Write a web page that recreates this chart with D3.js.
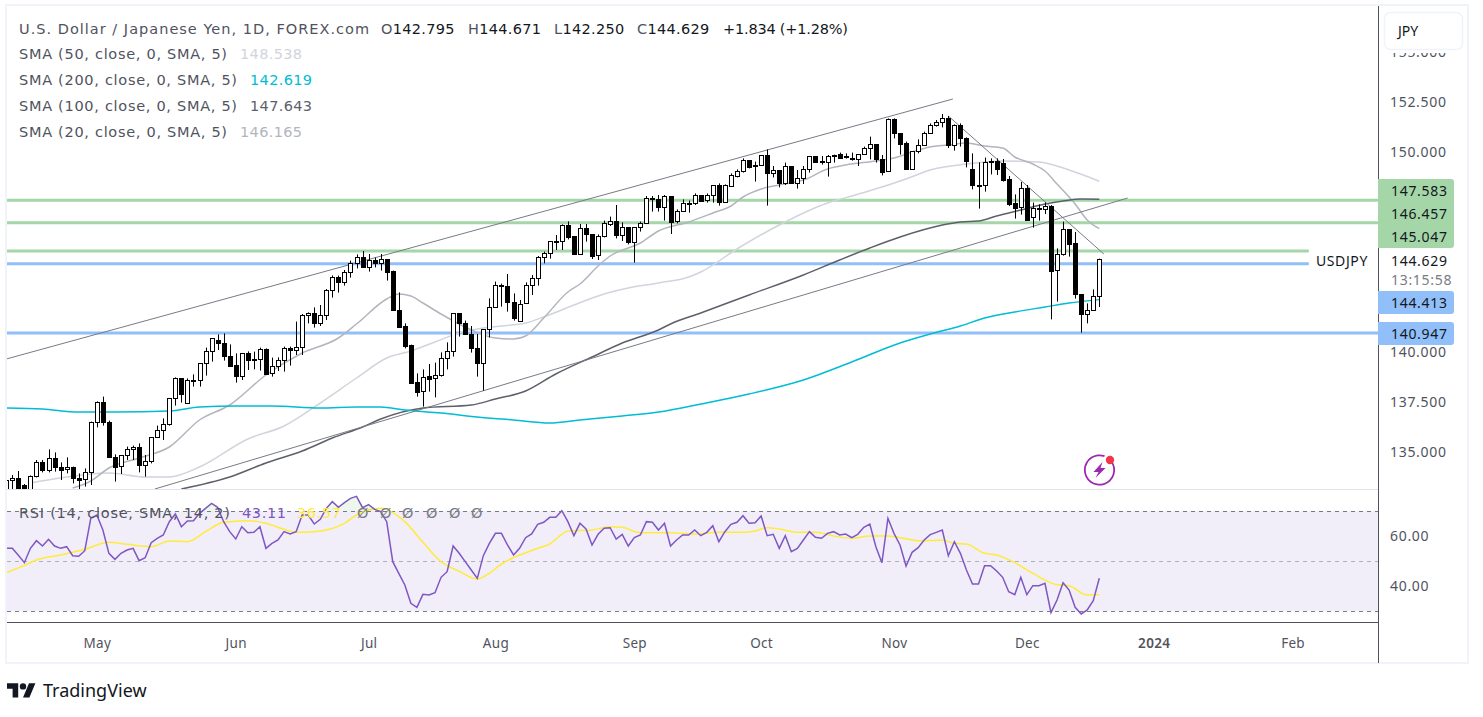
<!DOCTYPE html>
<html><head><meta charset="utf-8">
<script src="https://cdnjs.cloudflare.com/ajax/libs/d3/7.8.5/d3.min.js"></script>
<style>
html,body{margin:0;padding:0;background:#fff;overflow:hidden}
svg{display:block}
text{font-family:"Noto Sans",sans-serif}
</style></head><body>
<svg id="chart" width="1483" height="717"></svg>
<script>
// ---------- DATA ----------
const opens=[132.93,133.58,133.68,133.35,133.02,133.78,134.48,134.08,134.72,134.23,
134.13,134.23,133.68,133.63,133.98,136.52,137.48,136.52,134.73,134.28,
134.83,135.13,135.23,134.33,134.53,135.73,136.08,136.38,137.68,138.68,
137.43,138.57,138.58,139.43,140.03,140.58,140.43,139.78,139.33,138.78,
139.93,139.62,139.63,140.13,138.93,139.32,139.58,140.18,140.08,140.27,
141.83,141.93,141.43,141.83,143.10,143.73,143.48,144.02,144.47,144.73,
144.27,144.60,144.43,144.63,144.03,142.08,141.30,140.33,138.50,138.03,
138.78,138.68,138.83,139.68,140.03,141.93,141.45,140.90,140.22,139.47,
141.13,142.23,143.32,143.28,142.48,141.53,142.43,143.33,143.68,144.73,
144.93,145.52,145.53,146.33,145.80,144.88,146.18,145.88,144.83,145.78,
146.42,146.53,145.83,146.23,145.52,146.23,146.43,147.68,147.63,147.27,
147.80,146.53,147.03,147.45,147.43,147.83,147.58,147.83,148.33,147.52,
148.30,148.80,149.03,149.58,149.32,149.33,149.83,148.97,149.08,148.47,
149.28,148.47,148.68,149.13,149.78,149.53,149.48,149.78,149.90,149.79,
149.68,149.67,149.88,150.18,150.38,149.63,149.03,151.63,150.93,150.43,
149.17,150.03,150.33,150.93,151.33,151.48,151.68,150.33,151.33,150.68,
149.17,148.34,148.37,149.56,149.57,149.43,148.63,147.45,147.23,148.18,
146.77,147.18,147.13,147.30,144.08,144.92,146.13,145.43,142.88,141.88,
142.08,142.795];
const highs=[133.63,133.85,134.05,133.40,133.83,134.60,134.60,135.13,134.98,134.48,
134.73,134.27,133.93,134.18,136.52,137.53,137.77,136.57,134.88,134.83,
135.27,135.32,135.43,134.85,135.73,136.32,136.68,137.68,138.73,138.68,
138.68,138.88,139.43,140.22,140.68,140.88,140.93,140.38,139.93,139.93,
140.03,140.02,140.22,140.18,139.72,139.73,140.27,140.27,141.52,141.90,
141.98,142.23,142.35,143.15,143.83,143.82,144.10,144.57,144.88,145.05,
144.90,144.72,144.90,144.63,144.07,142.98,141.43,140.37,138.93,139.13,
139.40,139.47,139.98,140.48,141.93,141.93,141.57,141.30,140.90,141.13,
142.68,143.52,143.42,143.90,142.93,142.60,143.48,143.85,144.80,145.02,
145.53,145.85,146.38,146.53,145.80,146.40,146.40,145.88,145.88,146.57,
146.77,147.35,146.48,146.23,146.23,146.52,147.80,147.80,147.85,147.85,
147.80,147.13,147.63,147.57,147.93,147.83,147.93,148.33,148.43,148.38,
148.93,149.13,149.68,149.58,149.52,149.83,150.13,149.30,149.08,149.47,
149.28,149.10,149.30,149.78,149.78,149.80,149.85,149.87,149.97,149.93,
149.97,149.88,150.27,150.77,150.38,149.85,151.68,151.68,150.93,150.52,
150.03,150.63,151.02,151.43,151.60,151.90,151.80,151.38,151.43,150.73,
149.93,149.48,149.72,149.68,149.68,149.65,148.80,147.88,148.50,148.35,
147.47,147.38,147.48,147.35,145.18,146.52,146.13,146.00,142.88,142.43,
143.13,144.671];
const lows=[132.77,133.10,132.93,132.93,132.93,133.73,133.98,133.98,134.02,133.60,
133.93,133.43,133.15,133.27,133.35,136.23,136.32,134.73,133.52,133.90,
134.60,134.60,133.98,133.77,134.43,135.73,135.60,136.32,137.32,137.47,
137.43,138.27,138.27,138.82,139.52,140.10,139.57,139.27,138.47,138.60,
139.10,139.13,139.07,138.88,138.77,139.05,139.02,139.32,139.85,139.85,
141.43,141.22,141.30,141.60,142.72,142.97,143.32,143.72,144.18,144.23,
144.02,144.23,144.07,143.57,142.08,141.27,140.18,138.47,137.77,137.27,
138.02,137.73,138.77,139.13,139.77,140.77,140.88,139.97,138.77,138.07,
140.73,142.23,142.27,142.02,141.57,141.53,142.43,142.85,143.32,144.43,
144.67,145.10,145.10,145.63,144.88,144.88,145.52,144.65,144.60,145.73,
146.30,145.68,145.55,145.38,144.47,146.02,146.43,147.02,147.02,146.57,
145.90,146.43,147.02,146.97,147.35,147.57,147.47,147.47,147.32,147.52,
148.27,148.73,148.97,149.18,148.52,149.30,147.32,148.73,148.23,148.35,
148.40,148.17,148.40,148.97,149.47,149.37,148.77,149.47,149.67,149.67,
149.57,149.30,149.85,149.63,149.47,148.83,149.03,150.68,149.87,149.17,
149.17,149.93,150.33,150.93,151.27,151.23,150.20,150.07,150.27,149.23,
148.13,147.17,148.02,148.88,148.85,148.52,147.30,146.67,146.87,146.60,
146.22,146.57,146.90,141.63,142.52,144.82,144.77,142.67,140.97,141.43,
142.08,142.25];
const closes=[133.58,133.68,133.02,133.02,133.78,134.48,134.08,134.72,134.23,134.12,
134.23,133.68,133.62,133.98,136.52,137.48,136.52,134.73,134.27,134.83,
135.13,135.23,134.33,134.53,135.73,136.08,136.38,137.68,138.68,137.88,
138.58,138.58,139.43,140.03,140.68,140.43,139.78,139.32,138.78,139.93,
139.58,139.63,140.13,138.92,139.32,139.58,140.18,140.08,140.27,141.83,
141.93,141.43,141.83,143.10,143.73,143.48,144.02,144.47,144.73,144.27,
144.60,144.43,144.63,144.02,142.08,141.27,140.32,138.47,138.02,138.77,
138.67,138.83,139.68,140.03,141.93,141.43,140.88,140.22,139.47,141.13,
142.23,143.33,143.33,142.48,141.72,142.42,143.33,143.68,144.73,144.93,
145.53,145.53,146.33,145.77,144.88,146.18,145.88,144.82,145.78,146.43,
146.53,145.83,146.23,145.52,146.23,146.43,147.68,147.65,147.27,147.80,
146.52,147.03,147.43,147.47,147.83,147.57,147.83,148.33,147.52,148.33,
148.83,149.03,149.58,149.27,149.33,149.83,148.97,149.08,148.47,149.28,
148.47,148.68,149.13,149.78,149.52,149.48,149.78,149.87,149.70,149.80,
149.63,149.88,150.18,150.38,149.63,149.02,151.63,150.93,150.42,149.17,
150.03,150.33,150.93,151.33,151.48,151.68,150.33,151.33,150.68,149.57,
148.33,148.35,149.48,149.57,149.17,148.60,147.40,147.22,148.18,146.62,
147.18,147.13,147.28,144.07,144.92,146.13,145.42,142.88,141.88,142.08,
142.78,144.629];

const sma20Bars=[11,14,17,22,27,32,37,43,49,55,58,63,65,67,69,72,76,81,84,86,89,93,95,98,100,105,108,113,117,120,122,125,128,132,136,139,144,147,150,153,156,159,162,165,167,170,172,174,177,179,181];
const sma20Vals=[133.2,133.55,134.2,134.7,135.25,136.6,137.35,138.85,139.95,140.7,141.4,142.65,142.9,142.8,142.45,141.9,141.25,140.7,140.65,140.8,141.7,143.0,143.4,144.3,144.8,145.45,146.05,146.5,146.95,147.3,147.75,148.15,148.35,148.6,149.15,149.35,149.55,149.7,150.0,150.25,150.35,150.45,150.3,150.2,149.75,149.4,149.05,148.4,147.4,146.6,146.165];
const sma50Bars=[4,9,17,23,27,32,40,46,52,58,63,67,71,75,79,82,86,89,94,99,103,108,113,115,121,128,136,140,145,149,153,159,165,171,176,181];
const sma50Vals=[133.45,133.7,133.95,133.75,133.75,134.25,135.65,136.3,137.45,138.7,139.7,140.05,140.5,140.95,141.2,141.3,141.45,141.75,142.35,142.9,143.2,143.45,143.75,144.0,145.15,146.35,147.45,147.8,148.25,148.65,149.1,149.4,149.55,149.5,149.1,148.538];
const sma100Bars=[29,37,43,49,54,59,62,69,77,81,86,91,97,102,108,110,115,123,132,138,143,148,155,158,161,164,168,172,175,178,181];
const sma100Vals=[133.15,133.75,134.45,135.05,135.7,136.25,136.65,137.2,137.35,137.65,138.05,138.9,139.75,140.45,141.1,141.4,141.95,142.85,143.85,144.6,145.2,145.75,146.35,146.5,146.55,146.8,147.1,147.4,147.55,147.65,147.643];
const sma200Bars=[0,6,12,18,27,32,38,44,52,58,62,66,72,78,84,90,95,102,108,115,123,132,140,148,153,158,162,167,172,176,181];
const sma200Vals=[137.2,137.15,137.0,137.0,137.05,137.25,137.3,137.3,137.2,137.25,137.25,137.1,136.95,136.75,136.6,136.45,136.6,136.8,137.0,137.4,137.9,138.6,139.5,140.45,140.9,141.3,141.7,142.0,142.25,142.45,142.619];

const rsiVals=[55.07,55.07,52.27,49.33,55.07,58.13,56.0,58.67,56.0,55.07,55.73,52.13,51.87,54.13,67.07,68.4,62.4,53.07,50.67,53.07,54.4,55.07,50.13,51.33,57.33,59.07,60.4,65.73,68.8,63.73,66.0,66.13,69.07,71.07,73.07,71.47,65.73,61.73,58.8,63.73,61.33,61.47,63.73,55.07,57.07,58.4,61.73,60.8,61.73,68.4,68.4,64.8,66.67,71.07,73.73,71.47,73.33,75.07,75.87,71.33,72.53,70.67,69.73,65.73,49.73,45.07,40.4,33.07,31.47,36.67,36.4,37.33,43.47,45.73,56.0,53.07,49.73,46.4,43.07,52.13,57.07,61.07,61.07,56.4,52.4,55.07,59.33,60.8,64.67,65.47,67.47,67.47,
70.13,65.73,60.13,65.07,62.8,56.4,60.67,63.07,63.33,58.8,60.67,56.0,59.33,60.4,65.73,65.47,62.4,65.07,56.0,58.4,60.4,60.4,62.4,60.13,61.47,64.13,57.73,61.73,64.67,65.47,68.13,65.07,65.33,68.0,60.13,60.67,55.07,60.13,53.73,55.07,58.4,61.73,59.47,59.07,61.07,61.73,60.4,60.8,59.33,60.67,63.47,64.8,55.73,49.33,67.07,61.07,56.4,48.0,53.47,55.33,58.4,60.53,61.47,62.4,52.13,57.73,53.07,46.4,40.8,40.8,48.13,48.13,46.0,43.47,37.73,36.53,43.47,36.53,40.13,40.13,41.07,29.33,34.4,41.33,38.4,31.47,28.8,30.4,34.13,43.11];
const rsiMaBars=[0,3,5,9,13,17,20,24,27,30,33,36,40,43,46,48,51,56,58,62,66,69,72,75,78,80,82,84,88,90,92,93,97,100,102,105,110,114,118,122,124,126,128,131,134,137,140,143,146,149,151,155,157,159,162,164,167,170,174,176,179,181];
const rsiMaVals=[45.33,48.27,50.4,52.4,54.67,57.47,56.67,55.73,58.0,57.73,61.73,65.47,66.13,65.07,62.67,61.47,61.73,65.07,68.4,71.07,65.73,57.47,49.73,45.87,42.8,45.07,48.8,51.33,55.07,56.8,60.67,62.0,62.4,63.73,63.47,61.33,61.33,60.8,61.47,61.47,62.0,63.33,62.8,61.47,61.47,60.0,59.07,60.0,60.0,58.93,58.13,58.27,57.07,56.8,53.07,52.4,49.33,45.07,40.53,40.13,36.4,36.57];

const levelVals=[147.583,146.457,145.047,144.413,140.947];
const levelKinds=["green","green","green","blue","blue"];
const levelEnds=[null,null,215.7,215.7,null]; // last bar of shortened levels

const trendUpper=[[0,139.65],[156.75,152.65]];
const trendLower=[[24.6,133.15],[185.7,147.7]];
const trendDown=[[156,151.8],[181.75,144.9]];

const priceTicks=[135,137.5,140,150,152.5,155];
const rsiTicks=[40,60];
const monthBars=[15,38,60,81,104,125,147,169,190,213];
const monthNames=["May","Jun","Jul","Aug","Sep","Oct","Nov","Dec","2024","Feb"];

const titleText="U.S. Dollar / Japanese Yen, 1D, FOREX.com";
const smaLabels=["SMA (50, close, 0, SMA, 5)","SMA (200, close, 0, SMA, 5)","SMA (100, close, 0, SMA, 5)","SMA (20, close, 0, SMA, 5)"];
const smaValues=["148.538","142.619","147.643","146.165"];

// ---------- STYLE ----------
const C={border:"#f0f3fa",axis:"#50535e",sep:"#e0e3eb",text:"#131722",muted:"#50535e",
 green:"#a5d6a7",blue:"#90bff9",sma20:"#b2b5be",sma50:"#d1d4dc",sma100:"#5d606b",sma200:"#00bcd4",
 trend:"#787b86",rsi:"#7e57c2",rsiMa:"#ffeb3b"};
const svg=d3.select("#chart");
const PL=7,PR=1378,PT=6,PB=489,RB=622,BB=663;
const x=d3.scaleLinear().domain([0,181]).range([6.26,1099.3]);
const y=d3.scaleLinear().domain([135,152.5]).range([452,102]);
const ry=d3.scaleLinear().domain([40,60]).range([586,536]);

const defs=svg.append("defs");
defs.append("clipPath").attr("id","cp").append("rect").attr("x",PL).attr("y",PT).attr("width",PR-PL).attr("height",PB-PT);
defs.append("clipPath").attr("id","cr").append("rect").attr("x",PL).attr("y",PB+1).attr("width",PR-PL).attr("height",RB-PB-1);
defs.append("clipPath").attr("id","cr70").append("rect").attr("x",PL).attr("y",PB+1).attr("width",PR-PL).attr("height",ry(70)-PB-1);
defs.append("clipPath").attr("id","cr30").append("rect").attr("x",PL).attr("y",ry(30)).attr("width",PR-PL).attr("height",RB-ry(30));

// frame
svg.append("rect").attr("x",6).attr("y",5).attr("width",1462).attr("height",658).attr("fill","#fff").attr("stroke",C.border).attr("stroke-width",2);

// price pane
const pane=svg.append("g").attr("clip-path","url(#cp)");
levelVals.forEach((v,i)=>{
  const xe=levelEnds[i]==null?PR:x(levelEnds[i]);
  pane.append("line").attr("x1",PL).attr("x2",xe).attr("y1",y(v)).attr("y2",y(v))
    .attr("stroke",C[levelKinds[i]]).attr("stroke-width",3);
});
const line=d3.line().x(d=>x(d[0])).y(d=>y(d[1])).curve(d3.curveMonotoneX);
[[sma50Bars,sma50Vals,C.sma50],[sma20Bars,sma20Vals,C.sma20],[sma100Bars,sma100Vals,C.sma100],[sma200Bars,sma200Vals,C.sma200]].forEach(([b,v,c])=>{
  pane.append("path").attr("d",line(b.map((d,i)=>[d,v[i]]))).attr("fill","none").attr("stroke",c).attr("stroke-width",1.5);
});
[trendUpper,trendLower,trendDown].forEach(t=>{
  pane.append("line").attr("x1",x(t[0][0])).attr("y1",y(t[0][1])).attr("x2",x(t[1][0])).attr("y2",y(t[1][1]))
   .attr("stroke",C.trend).attr("stroke-width",1);
});
// candles
const idx=d3.range(opens.length);
const cg=pane.append("g").selectAll("g").data(idx).join("g");
cg.each(function(i){
  const g=d3.select(this),cx=Math.round(x(i))+0.5;
  const top=Math.round(y(Math.max(opens[i],closes[i]))),bot=Math.round(y(Math.min(opens[i],closes[i])));
  g.append("line").attr("x1",cx).attr("x2",cx).attr("y1",y(highs[i])).attr("y2",y(lows[i])).attr("stroke","#000").attr("stroke-width",1);
  const up=closes[i]>=opens[i];
  g.append("rect").attr("x",cx-2).attr("y",top+0.5).attr("width",4).attr("height",Math.max(bot-top,1))
    .attr("fill",up?"#fff":"#000").attr("stroke","#000").attr("stroke-width",1);
});

// pane separators
svg.append("line").attr("x1",PL).attr("x2",PR).attr("y1",PB+0.5).attr("y2",PB+0.5).attr("stroke",C.sep);

// lightning badge
const badge=svg.append("g").attr("transform","translate(1099.5,470)");
badge.append("path").attr("d",d3.arc()({innerRadius:13.8,outerRadius:15.6,startAngle:0.95,endAngle:Math.PI*2+0.35})).attr("fill","#9c27b0");
badge.append("path").attr("d","M3,-8 L-6,2 L-1,2 L-4,8 L6,-2 L1,-2 Z").attr("fill","#9c27b0");
badge.append("circle").attr("cx",10.5).attr("cy",-10).attr("r",4.2).attr("fill","#f23645");

// RSI pane
const rsiG=svg.append("g").attr("clip-path","url(#cr)");
rsiG.append("rect").attr("x",PL).attr("width",PR-PL).attr("y",ry(70)).attr("height",ry(30)-ry(70)).attr("fill","#7e57c2").attr("fill-opacity",0.1);
[[70,C.trend,1],[50,C.trend,0.55],[30,C.trend,1]].forEach(([v,c,o])=>{
  rsiG.append("line").attr("x1",PL).attr("x2",PR).attr("y1",Math.floor(ry(v))+0.5).attr("y2",Math.floor(ry(v))+0.5)
    .attr("stroke",c).attr("stroke-opacity",o).attr("stroke-dasharray","4,4");
});
const rsiPts=rsiVals.map((v,i)=>[i,v]);
const rl=d3.line().x(d=>x(d[0])).y(d=>ry(d[1]));
const ra=(lv)=>d3.area().x(d=>x(d[0])).y0(ry(lv)).y1(d=>ry(d[1]));
svg.append("path").attr("clip-path","url(#cr70)").attr("d",ra(70)(rsiPts)).attr("fill","#4caf50").attr("fill-opacity",0.1);
svg.append("path").attr("clip-path","url(#cr30)").attr("d",ra(30)(rsiPts)).attr("fill","#f23645").attr("fill-opacity",0.1);
rsiG.append("path").attr("d",d3.line().x(d=>x(d[0])).y(d=>ry(d[1])).curve(d3.curveMonotoneX)(rsiMaBars.map((b,i)=>[b,rsiMaVals[i]]))).attr("fill","none").attr("stroke",C.rsiMa).attr("stroke-width",1.5);
rsiG.append("path").attr("d",rl(rsiPts)).attr("fill","none").attr("stroke",C.rsi).attr("stroke-width",1.5);

// axes lines
svg.append("line").attr("x1",PL).attr("x2",PR).attr("y1",RB+0.5).attr("y2",RB+0.5).attr("stroke",C.axis);
svg.append("line").attr("x1",PR+0.5).attr("x2",PR+0.5).attr("y1",PT).attr("y2",BB).attr("stroke",C.axis);

// price axis
const fs=14,ls="0.7px";
const pa=svg.append("g").attr("transform",`translate(${PR},0)`).call(d3.axisRight(y).tickValues(priceTicks).tickSize(0).tickPadding(12).tickFormat(d3.format(".3f")));
pa.select(".domain").remove();
pa.selectAll("text").attr("fill","#50535e").attr("font-size",fs).style("letter-spacing",ls).attr("font-family",'"Noto Sans"');
const rsiA=svg.append("g").attr("transform",`translate(${PR},0)`).call(d3.axisRight(ry).tickValues(rsiTicks).tickSize(0).tickPadding(12).tickFormat(d3.format(".2f")));
rsiA.select(".domain").remove();
rsiA.selectAll("text").attr("fill","#50535e").attr("font-size",fs).style("letter-spacing",ls).attr("font-family",'"Noto Sans"');

// JPY button (its white margin trims the top tick label)
svg.append("rect").attr("x",PR+1).attr("y",6).attr("width",88).attr("height",47).attr("fill","#fff");
svg.append("rect").attr("x",1384.5).attr("y",12.5).attr("width",78).attr("height",37).attr("rx",6).attr("fill","#fff").attr("stroke",C.border).attr("stroke-width",1.5);
svg.append("text").attr("x",1398).attr("y",36).attr("font-size",14).attr("fill",C.text).text("JPY");

// time axis
const ta=svg.append("g").attr("transform",`translate(0,${RB+16})`).call(d3.axisBottom(x).tickValues(monthBars).tickSize(0).tickPadding(0).tickFormat((d,i)=>monthNames[i]));
ta.select(".domain").remove();
ta.selectAll("text").attr("fill","#50535e").attr("font-size",13.5).attr("font-family",'"Noto Sans"').style("letter-spacing","0.3px")
  .attr("font-weight",(d,i)=>monthNames[i]==="2024"?600:400);

// price tags
const tagBox=(y0,y1,fill)=>svg.append("path").attr("d",`M${PR},${y0}H1451a3,3 0 0 1 3,3V${y1-3}a3,3 0 0 1 -3,3H${PR}Z`).attr("fill",fill);
tagBox(179,248,C.green);
tagBox(291,314,C.blue);
tagBox(322,345,C.blue);
const tag=(t,yc,col,size)=>svg.append("text").attr("x",1391).attr("y",yc).attr("dy","0.35em").attr("font-size",size||fs).attr("fill",col||C.text).style("letter-spacing",ls).text(t);
tag(d3.format(".3f")(levelVals[0]),191);
tag(d3.format(".3f")(levelVals[1]),214);
tag(d3.format(".3f")(levelVals[2]),237);
tag("144.629",261);
tag("13:15:58",280,"#787b86");
tag(d3.format(".3f")(levelVals[3]),303);
tag(d3.format(".3f")(levelVals[4]),334);
svg.append("text").attr("x",1316).attr("y",261).attr("dy","0.35em").attr("font-size",14).attr("fill",C.text).style("letter-spacing","0.6px").text("USDJPY");

// legends
const leg=svg.append("g").attr("font-size",14.5);
const lt=(px,py,col,s,w)=>{
  const t=leg.append("text").attr("x",px).attr("y",py).attr("dy","0.35em").attr("fill",col).style("font-family",'"DejaVu Sans"').text(s);
  if(w) t.attr("textLength",w).attr("lengthAdjust","spacing");
  return t;
};
lt(19,29,C.muted,titleText,350);
[["O",381,"142.795"],["H",468,"144.671"],["L",554,"142.250"],["C",637,"144.629"]].forEach(([k,px,v])=>{
  const t=lt(px,29,C.muted,"");
  t.append("tspan").attr("fill",C.muted).text(k);
  t.append("tspan").attr("fill",C.text).text(v);
  t.style("letter-spacing","0.3px");
});
lt(723,29,C.text,"+1.834 (+1.28%)",125);
const smaCols=[C.sma50,C.sma200,C.sma100,C.sma20];
const smaX=[240,250,250,240];
const smaWidths=[208,218,218,208];
smaLabels.forEach((s,i)=>{
  const yy=54+i*26;
  lt(19,yy,C.muted,s,smaWidths[i]);
  lt(smaX[i],yy,smaCols[i],smaValues[i],62);
});
lt(19,513,C.muted,"RSI (14, close, SMA, 14, 2)",211);
lt(242,513,C.rsi,"43.11",44);
lt(297,513,C.rsiMa,"36.57",44);
[357,380,402,426,449,471].forEach(px=>lt(px,513,"#787b86","Ø"));

// TradingView logo
svg.append("g").attr("transform","translate(7,680) scale(0.8)").append("path")
  .attr("d","M14 22H7V11H0V4h14v18zM28 22h-8l7.5-18h8L28 22z").attr("fill",C.text);
svg.append("circle").attr("cx",7+20*0.8).attr("cy",680+8*0.8).attr("r",3.2).attr("fill",C.text);
svg.append("text").attr("x",43).attr("y",691).attr("dy","0.35em").attr("font-size",18).attr("fill",C.text).text("TradingView");
</script>
</body></html>
